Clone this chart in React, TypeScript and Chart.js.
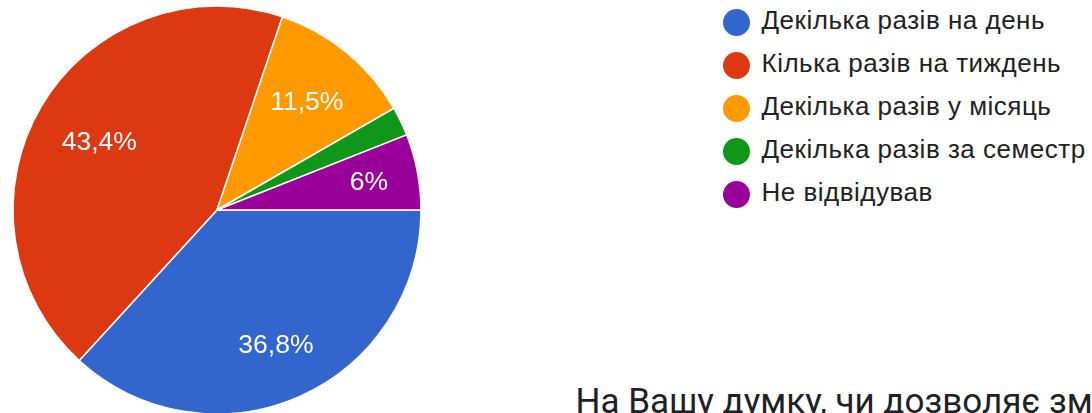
import React, { useEffect, useRef } from "react";
import { Chart, registerables } from "chart.js";

Chart.register(...registerables);

const categories = [
  "Декілька разів на день",
  "Кілька разів на тиждень",
  "Декілька разів у місяць",
  "Декілька разів за семестр",
  "Не відвідував",
];
const values = [36.8, 43.4, 11.5, 2.3, 6];
const valueLabels = ["36,8%", "43,4%", "11,5%", "", "6%"];
const colors = ["#3366cc", "#dc3912", "#ff9900", "#109618", "#990099"];
const questionText = "На Вашу думку, чи дозволяє змінна форма навчання";

const LABEL_FONT = 26.5;

const labelPlugin = {
  id: "sliceLabels",
  afterDatasetsDraw(chart: any) {
    const meta = chart.getDatasetMeta(0);
    const ctx = chart.ctx;
    ctx.save();
    ctx.fillStyle = "#ffffff";
    ctx.font = `${LABEL_FONT}px 'Liberation Sans', Arial, sans-serif`;
    ctx.textAlign = "center";
    ctx.textBaseline = "alphabetic";
    meta.data.forEach((arc: any, i: number) => {
      const label = valueLabels[i];
      if (!label) return;
      const p = arc.getProps(["x", "y", "startAngle", "endAngle", "outerRadius"], true);
      const mid = (p.startAngle + p.endAngle) / 2;
      const c = Math.cos(mid);
      const s = Math.sin(mid);
      const hw = ctx.measureText(label).width / 2;
      const hh = LABEL_FONT * 0.53;
      const R = p.outerRadius * 0.865;
      const b = Math.abs(c) * hw + Math.abs(s) * hh;
      const d = -b + Math.sqrt(b * b - (hw * hw + hh * hh) + R * R);
      const x = p.x + c * d;
      const y = p.y + s * d;
      ctx.fillText(label, x, y + LABEL_FONT * 0.358);
    });
    ctx.restore();
  },
};

export default function App() {
  const ref = useRef<HTMLCanvasElement | null>(null);
  useEffect(() => {
    document.body.style.margin = "0";
    const chart = new Chart(ref.current as HTMLCanvasElement, {
      type: "pie",
      data: {
        labels: categories,
        datasets: [
          {
            data: values,
            backgroundColor: colors,
            borderColor: "#ffffff",
            borderWidth: 1.5,
          },
        ],
      },
      options: {
        animation: false,
        responsive: true,
        maintainAspectRatio: false,
        rotation: 90,
        radius: 204,
        layout: { padding: 0 },
        plugins: {
          legend: { display: false },
          tooltip: { enabled: false },
        },
      },
      plugins: [labelPlugin],
    });
    return () => chart.destroy();
  }, []);

  return (
    <div
      style={{
        position: "relative",
        width: 1092,
        height: 413,
        overflow: "hidden",
        background: "#ffffff",
        fontFamily: "Roboto, sans-serif",
      }}
    >
      <div style={{ position: "absolute", left: 0, top: 0, width: 434, height: 420 }}>
        <canvas ref={ref} />
      </div>
      {categories.map((c, i) => (
        <React.Fragment key={c}>
          <span
            style={{
              position: "absolute",
              left: 722.5,
              top: 22 + i * 43 - 13.5,
              width: 27,
              height: 27,
              borderRadius: "50%",
              background: colors[i],
            }}
          />
          <span
            style={{
              position: "absolute",
              left: 761.5,
              top: 7 + i * 43,
              fontFamily: "'Liberation Sans', Arial, sans-serif",
              fontSize: 26,
              lineHeight: "26px",
              letterSpacing: "0.5px",
              color: "#222222",
              whiteSpace: "nowrap",
            }}
          >
            {c}
          </span>
        </React.Fragment>
      ))}
      <div
        style={{
          position: "absolute",
          left: 575.5,
          top: 383.5,
          fontSize: 35,
          lineHeight: "35px",
          color: "#202124",
          whiteSpace: "nowrap",
        }}
      >
        {questionText}
      </div>
    </div>
  );
}
